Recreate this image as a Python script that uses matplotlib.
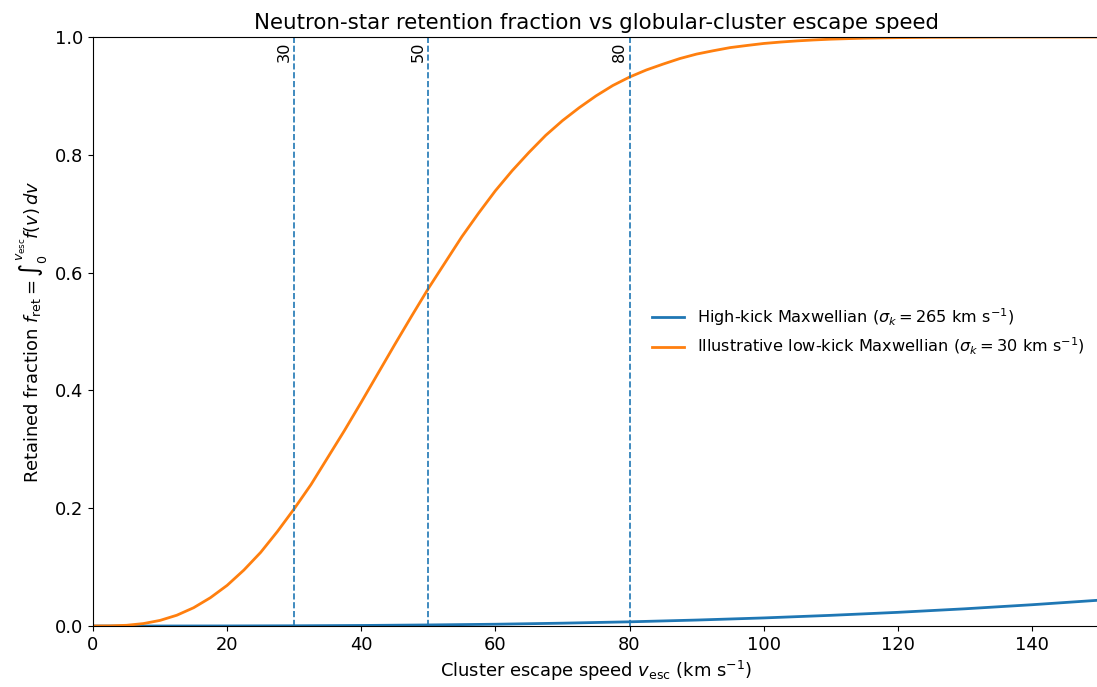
#!/usr/bin/env python3
"""
Neutron-star retention fraction against cluster escape speed for two kick distributions.
"""

import matplotlib.pyplot as plt

# low-kick retention curve, sampled along v_esc (km/s)
v_low = [0, 2.5, 5, 7.5, 10, 12.5, 15, 17.5, 20, 22.5, 25, 27.5, 30, 32.5,
         35, 37.5, 40, 42.5, 45, 47.5, 50, 52.5, 55, 57.5, 60, 62.5, 65, 67.5,
         70, 72.5, 75, 77.5, 80, 82.5, 85, 87.5, 90, 92.5, 95, 97.5, 100,
         102.5, 105, 107.5, 110, 112.5, 115, 117.5, 120, 125, 130, 135, 140,
         145, 150]
f_low = [0.0, 0.0002, 0.0012, 0.0041, 0.0095, 0.0183, 0.031, 0.048, 0.069,
         0.095, 0.125, 0.1605, 0.199, 0.240, 0.286, 0.332, 0.380, 0.429,
         0.478, 0.526, 0.573, 0.617, 0.661, 0.701, 0.739, 0.773, 0.804,
         0.833, 0.858, 0.880, 0.900, 0.9176, 0.932, 0.944, 0.954, 0.9634,
         0.971, 0.9767, 0.982, 0.9856, 0.989, 0.9914, 0.9934, 0.9950, 0.9963,
         0.9972, 0.998, 0.9985, 0.9989, 0.9995, 0.9997, 1.0, 1.0, 1.0, 1.0]

# high-kick retention curve
v_high = [0, 10, 20, 30, 40, 50, 60, 70, 80, 90, 100, 110, 120, 130, 140, 150]
f_high = [0.0, 0.00001, 0.00011, 0.00038, 0.0009, 0.0018, 0.0030, 0.0048,
          0.0071, 0.0101, 0.0137, 0.0181, 0.0232, 0.0292, 0.0361, 0.0438]

label_high = r"High-kick Maxwellian ($\sigma_k = 265$ km s$^{-1}$)"
label_low = r"Illustrative low-kick Maxwellian ($\sigma_k = 30$ km s$^{-1}$)"

# reference escape speeds
v_marks = [30, 50, 80]


def main() -> None:
    fig = plt.figure(figsize=(10.97, 6.87), dpi=100)
    ax = fig.add_axes([93 / 1097, 1 - 626 / 687, 1006 / 1097, 589 / 687])

    ax.plot(v_high, f_high, color="C0", linewidth=2, label=label_high)
    ax.plot(v_low, f_low, color="C1", linewidth=2, label=label_low)

    for v in v_marks:
        ax.axvline(v, color="C0", linestyle="--", linewidth=1.2)
        ax.text(v - 0.4, 0.993, str(v), rotation=90, ha="right", va="top",
                fontsize=11.6, transform=ax.get_xaxis_transform())

    ax.set_xlim(0, 150)
    ax.set_ylim(0, 1)
    ax.set_xlabel(r"Cluster escape speed $v_{\rm esc}$ (km s$^{-1}$)", fontsize=12.9)
    ax.set_ylabel(r"Retained fraction $f_{\rm ret} = \int_0^{v_{\rm esc}} f(v)\,dv$",
                  fontsize=12.9)
    ax.set_title("Neutron-star retention fraction vs globular-cluster escape speed",
                 fontsize=15.4)
    ax.tick_params(labelsize=12.9)
    ax.legend(loc="center right", frameon=False, fontsize=11.6)

    fig.savefig("out.png", dpi=100)


if __name__ == "__main__":
    main()
